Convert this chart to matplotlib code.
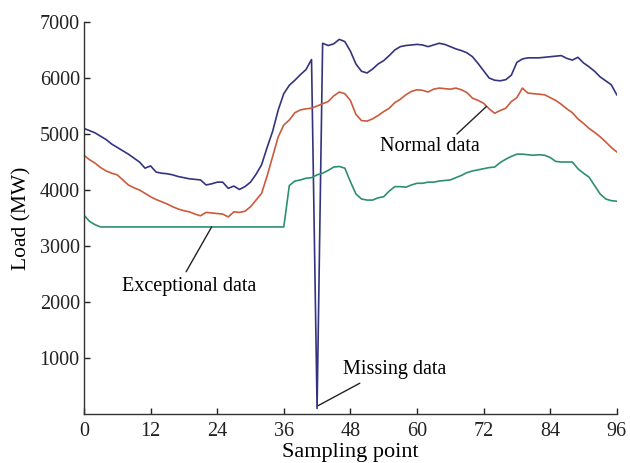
import matplotlib
matplotlib.use("Agg")
import matplotlib.pyplot as plt
import numpy as np

# Sampling points (96 intervals per day)
sampling_point = list(range(97))

# Load series with a missing sample (dip at point 42)
missing_series = [5100, 5060, 5020, 4960, 4900, 4820, 4760, 4700, 4640, 4570,
                  4500, 4390, 4430, 4320, 4300, 4290, 4270, 4240, 4220, 4200,
                  4190, 4180, 4090, 4110, 4140, 4140, 4030, 4070, 4010, 4060,
                  4140, 4280, 4450, 4760, 5050, 5430, 5720, 5870, 5960, 6060,
                  6150, 6330, 100, 6620, 6580, 6610, 6690, 6650, 6480, 6250,
                  6120, 6090, 6160, 6250, 6310, 6400, 6500, 6560, 6580, 6590,
                  6600, 6590, 6560, 6590, 6620, 6600, 6560, 6520, 6490, 6450,
                  6380, 6260, 6130, 6000, 5960, 5950, 5970, 6050, 6280, 6340,
                  6360, 6360, 6360, 6370, 6380, 6390, 6400, 6350, 6320, 6370,
                  6270, 6200, 6120, 6020, 5950, 5880, 5700]

# Normal load series
normal_series = [4620, 4540, 4480, 4400, 4340, 4300, 4270, 4180, 4090, 4040,
                 4000, 3940, 3880, 3830, 3790, 3750, 3700, 3660, 3630, 3610,
                 3570, 3540, 3600, 3590, 3580, 3570, 3520, 3610, 3600, 3620,
                 3700, 3820, 3940, 4250, 4600, 4950, 5160, 5250, 5380, 5430,
                 5450, 5460, 5500, 5540, 5580, 5680, 5750, 5720, 5600, 5350,
                 5240, 5230, 5270, 5330, 5400, 5460, 5560, 5620, 5700, 5760,
                 5790, 5780, 5750, 5800, 5820, 5810, 5800, 5820, 5790, 5740,
                 5640, 5600, 5550, 5450, 5370, 5420, 5460, 5580, 5650, 5820,
                 5730, 5720, 5710, 5700, 5650, 5600, 5530, 5450, 5380, 5270,
                 5190, 5100, 5030, 4950, 4860, 4760, 4680]

# Load series with exceptional (stuck) values
exceptional_series = [3550, 3440, 3380, 3340, 3340, 3340, 3340, 3340, 3340, 3340,
                      3340, 3340, 3340, 3340, 3340, 3340, 3340, 3340, 3340, 3340,
                      3340, 3340, 3340, 3340, 3340, 3340, 3340, 3340, 3340, 3340,
                      3340, 3340, 3340, 3340, 3340, 3340, 3340, 4080, 4160, 4180,
                      4210, 4220, 4270, 4300, 4350, 4410, 4420, 4390, 4150, 3930,
                      3840, 3820, 3820, 3860, 3880, 3980, 4060, 4060, 4050, 4090,
                      4120, 4120, 4140, 4140, 4160, 4170, 4180, 4220, 4260, 4310,
                      4340, 4360, 4380, 4400, 4410, 4490, 4550, 4600, 4640, 4640,
                      4630, 4620, 4630, 4620, 4580, 4510, 4500, 4500, 4500, 4380,
                      4300, 4230, 4080, 3930, 3840, 3810, 3800]

x_ticks = [0, 12, 24, 36, 48, 60, 72, 84, 96]
y_ticks = [1000, 2000, 3000, 4000, 5000, 6000, 7000]

plt.rcParams['font.family'] = ['Liberation Serif', 'DejaVu Serif']

fig = plt.figure(figsize=(6.3, 4.63), dpi=100)
ax = fig.add_axes([0.1333, 0.1058, 0.8457, 0.8467])

ax.plot(sampling_point, missing_series, color='#34347e', lw=1.2)
ax.plot(sampling_point, normal_series, color='#cc5a3c', lw=1.2)
ax.plot(sampling_point, exceptional_series, color='#2a9070', lw=1.2)

ax.set_xlim(0, 96)
ax.set_ylim(0, 7000)
ax.set_xticks(x_ticks)
ax.set_yticks(y_ticks)
ax.tick_params(direction='in', length=4, width=1, labelsize=14.5, colors='#222222')
ax.tick_params(axis='x', pad=6)
ax.tick_params(axis='y', pad=3)
for side in ('top', 'right'):
    ax.spines[side].set_visible(False)
for side in ('left', 'bottom'):
    ax.spines[side].set_color('#333333')
    ax.spines[side].set_linewidth(1.0)

ax.set_xlabel('Sampling point', fontsize=16, labelpad=1)
ax.set_ylabel('Load (MW)', fontsize=15.5, labelpad=6)

arrow = dict(arrowstyle='-', color='#222222', lw=1.0, shrinkA=0, shrinkB=0)
ax.text(19, 2270, 'Exceptional data', fontsize=14.5, ha='center', va='center')
ax.annotate('', xy=(18.4, 2540), xytext=(23, 3340), arrowprops=arrow)
ax.text(62.4, 4780, 'Normal data', fontsize=14.5, ha='center', va='center')
ax.annotate('', xy=(67.2, 5000), xytext=(72.5, 5490), arrowprops=arrow)
ax.text(56, 800, 'Missing data', fontsize=14.5, ha='center', va='center')
ax.annotate('', xy=(49.7, 550), xytext=(42.2, 150), arrowprops=arrow)

fig.savefig('out.png', dpi=100)
